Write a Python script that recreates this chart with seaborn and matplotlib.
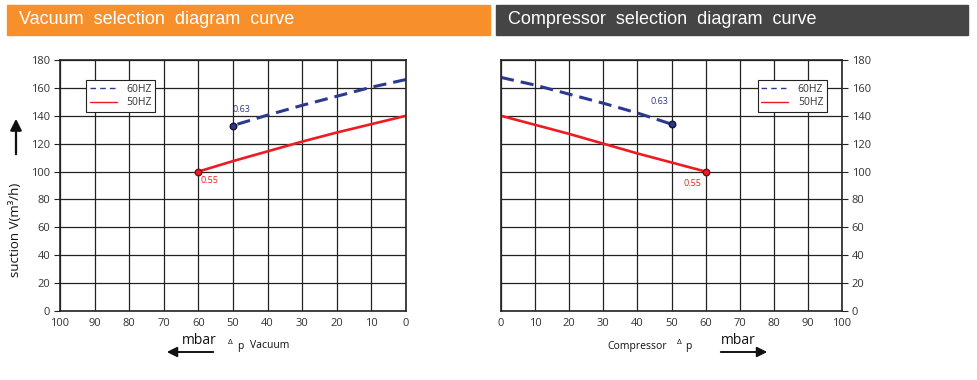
import pandas as pd
import matplotlib.pyplot as plt
import seaborn as sns
from matplotlib.lines import Line2D
from matplotlib.patches import Rectangle

# Data (mbar vs suction m3/h)
vac_x_50 = [60, 50, 40, 30, 20, 10, 0]
vac_y_50 = [100, 107.5, 114.5, 121.5, 128, 134, 140]
vac_x_60 = [50, 40, 30, 20, 10, 0]
vac_y_60 = [133, 140.5, 147.5, 154, 160.5, 166]

comp_x_50 = [0, 10, 20, 30, 40, 50, 60]
comp_y_50 = [140, 133.5, 127, 120, 113, 106.5, 100]
comp_x_60 = [0, 10, 20, 30, 40, 50]
comp_y_60 = [167.5, 162, 155.5, 149, 142, 134]

x_ticks = [0, 10, 20, 30, 40, 50, 60, 70, 80, 90, 100]
y_ticks = [0, 20, 40, 60, 80, 100, 120, 140, 160, 180]

BLUE = '#2b3990'
RED = '#ed1c24'
TXT = '#333333'

sns.set_style('white')
plt.rcParams['font.family'] = ['Open Sans', 'DejaVu Sans']

fig = plt.figure(figsize=(9.77, 3.8), dpi=100)

# Title bars
fig.patches.append(Rectangle((7 / 977, 1 - 35 / 380), 483 / 977, 30 / 380,
                             transform=fig.transFigure, color='#f7902a', zorder=0))
fig.patches.append(Rectangle((496 / 977, 1 - 35 / 380), 472 / 977, 30 / 380,
                             transform=fig.transFigure, color='#454545', zorder=0))
fig.text(19 / 977, 1 - 20 / 380, 'Vacuum  selection  diagram  curve', color='white',
         fontsize=13, va='center', family='Liberation Sans')
fig.text(508 / 977, 1 - 20 / 380, 'Compressor  selection  diagram  curve', color='white',
         fontsize=13, va='center', family='Liberation Sans')

ax1 = fig.add_axes([60 / 977, 1 - 311 / 380, 346 / 977, 251 / 380])
ax2 = fig.add_axes([501 / 977, 1 - 311 / 380, 341 / 977, 251 / 380])

dash = (0, (4.3, 2.3))


def style_axes(ax, right=False):
    ax.set_xlim(0, 100)
    ax.set_ylim(0, 180)
    ax.set_xticks(x_ticks)
    ax.set_yticks(y_ticks)
    ax.grid(True, color='#222222', linewidth=0.9)
    for s in ax.spines.values():
        s.set_color('#222222')
        s.set_linewidth(1.2)
    ax.tick_params(axis='x', length=0, pad=5, labelsize=8, labelcolor=TXT)
    ax.tick_params(axis='y', length=4, width=0.8, color='#222222', pad=3,
                   labelsize=8, labelcolor=TXT, left=not right, right=right,
                   labelleft=not right, labelright=right)
    ax.set_xlabel('')
    ax.set_ylabel('')


# Vacuum chart
sns.lineplot(x=vac_x_50, y=vac_y_50, color=RED, linewidth=1.9, ax=ax1)
sns.lineplot(x=vac_x_60, y=vac_y_60, color=BLUE, linewidth=2.2, linestyle=dash, ax=ax1)
ax1.scatter([vac_x_50[0]], [vac_y_50[0]], s=22, color=RED, edgecolor='#7a1010', zorder=5)
ax1.scatter([vac_x_60[0]], [vac_y_60[0]], s=22, color=BLUE, edgecolor='#111133', zorder=5)
ax1.text(vac_x_50[0] - 0.5, vac_y_50[0] - 6.5, '0.55', color=RED, fontsize=6.5, va='center', ha='left')
ax1.text(vac_x_60[0] + 0.2, vac_y_60[0] + 11.5, '0.63', color=BLUE, fontsize=6.5, va='center', ha='left')
style_axes(ax1)
ax1.invert_xaxis()

# Compressor chart
sns.lineplot(x=comp_x_50, y=comp_y_50, color=RED, linewidth=1.9, ax=ax2)
sns.lineplot(x=comp_x_60, y=comp_y_60, color=BLUE, linewidth=2.2, linestyle=dash, ax=ax2)
ax2.scatter([comp_x_50[-1]], [comp_y_50[-1]], s=22, color=RED, edgecolor='#7a1010', zorder=5)
ax2.scatter([comp_x_60[-1]], [comp_y_60[-1]], s=22, color=BLUE, edgecolor='#111133', zorder=5)
ax2.text(comp_x_50[-1] - 1.3, comp_y_50[-1] - 8.6, '0.55', color=RED, fontsize=6.5, va='center', ha='right')
ax2.text(comp_x_60[-1] - 1, comp_y_60[-1] + 16.5, '0.63', color=BLUE, fontsize=6.5, va='center', ha='right')
style_axes(ax2, right=True)

# Legends
handles = [Line2D([], [], color=BLUE, linewidth=1, linestyle=(0, (4, 3))),
           Line2D([], [], color=RED, linewidth=1)]
for ax, loc, anchor in [(ax1, 'upper left', (0.075, 0.92)), (ax2, 'upper right', (0.956, 0.92))]:
    leg = ax.legend(handles, ['60HZ', '50HZ'], loc=loc, bbox_to_anchor=anchor, fontsize=7.5,
                    frameon=True, fancybox=False, framealpha=1, handlelength=2.6,
                    borderpad=0.35, labelspacing=0.25, handletextpad=0.9, borderaxespad=0)
    leg.get_frame().set_edgecolor('#222222')
    leg.get_frame().set_linewidth(0.8)
    for t in leg.get_texts():
        t.set_color(TXT)

# Y label with arrow
fig.text(16 / 977, 1 - 230 / 380, 'suction V(m³/h)', rotation=90, fontsize=9.5,
         color='#111111', ha='center', va='center')
plt.annotate('', xy=(16 / 977, 1 - 116 / 380), xytext=(16 / 977, 1 - 157 / 380),
             xycoords='figure fraction',
             arrowprops=dict(arrowstyle='-|>', color='#111111', lw=1.6,
                             mutation_scale=17))

# Bottom captions
fig.text(199 / 977, 1 - 341 / 380, 'mbar', fontsize=10, color='#111111', ha='center', va='center')
plt.annotate('', xy=(164 / 977, 1 - 352 / 380), xytext=(216 / 977, 1 - 352 / 380),
             xycoords='figure fraction',
             arrowprops=dict(arrowstyle='-|>', color='#111111', lw=1.4, mutation_scale=15))
fig.text(228 / 977, 1 - 343 / 380, 'Δ', fontsize=6, color='#111111', va='center')
fig.text(237 / 977, 1 - 347 / 380, 'p', fontsize=7.5, color='#111111', va='center')
fig.text(250 / 977, 1 - 346 / 380, 'Vacuum', fontsize=7.5, color='#111111', va='center')

fig.text(607 / 977, 1 - 347 / 380, 'Compressor', fontsize=7.5, color='#111111', va='center')
fig.text(677 / 977, 1 - 343 / 380, 'Δ', fontsize=6, color='#111111', va='center')
fig.text(685 / 977, 1 - 347 / 380, 'p', fontsize=7.5, color='#111111', va='center')
fig.text(738 / 977, 1 - 340 / 380, 'mbar', fontsize=10, color='#111111', ha='center', va='center')
plt.annotate('', xy=(770 / 977, 1 - 352 / 380), xytext=(718 / 977, 1 - 352 / 380),
             xycoords='figure fraction',
             arrowprops=dict(arrowstyle='-|>', color='#111111', lw=1.4, mutation_scale=15))

plt.savefig('out.png', dpi=100)
